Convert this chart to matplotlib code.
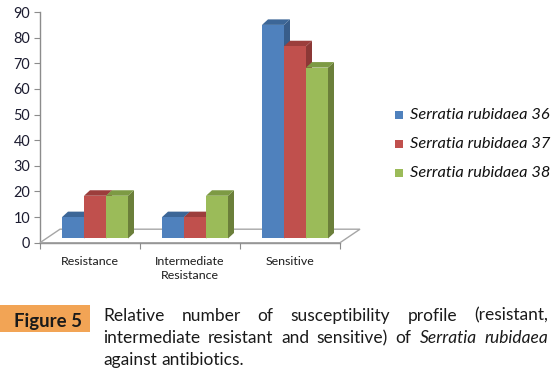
import matplotlib
matplotlib.use("Agg")
import matplotlib.pyplot as plt
from matplotlib.patches import Rectangle, Polygon

plt.rcParams.update({'font.family': 'Lato'})

# data (percent of antibiotics tested)
categories = ['Resistance', 'Intermediate\nResistance', 'Sensitive']
series_names = ['Serratia rubidaea 36', 'Serratia rubidaea 37', 'Serratia rubidaea 38']
sr36 = [8.33, 8.33, 83.33]
sr37 = [16.67, 8.33, 75.0]
sr38 = [16.67, 16.67, 66.67]
yticks = [0, 10, 20, 30, 40, 50, 60, 70, 80, 90]

# excel-ish colours: front, top, side
colors = [('#4F81BD', '#3C6697', '#385D8A'),
          ('#C0504D', '#9C3E3C', '#8C3836'),
          ('#9BBB59', '#7D9A44', '#6B7F3A')]
axis_grey = '#8c8c8c'

W, H = 556, 372
fig = plt.figure(figsize=(W / 100, H / 100), dpi=100)
renderer = fig.canvas.get_renderer()


def fit_size(s, target, **kw):
    # font size that makes string s about target px wide
    t = fig.text(0, 0, s, fontsize=10, **kw)
    w = t.get_window_extent(renderer).width
    t.remove()
    return 10 * target / w


ax = fig.add_axes([40 / W, 1 - 242.7 / H, 300 / W, 230.7 / H])
ax.set_xlim(-0.5, 2.5)
ax.set_ylim(0, 90)

# pseudo 3d geometry (data units)
bw = 0.22        # bar width
ox, oy = 0.05, 1.64   # bars sit a bit back on the floor
ddx, ddy = 0.06, 2.15  # bar depth
fdx, fdy = 0.20, 5.27  # floor depth

floor = Polygon([(-0.5, 0), (2.5, 0), (2.5 + fdx, fdy), (-0.5 + fdx, fdy)],
                closed=True, facecolor='white', edgecolor='#a6a6a6', lw=1.0,
                clip_on=False, zorder=1)
ax.add_patch(floor)


def bar3d(x0, h, cols, z):
    y0 = oy
    front, top, side = cols
    ax.add_patch(Polygon([(x0 + bw, y0), (x0 + bw + ddx, y0 + ddy),
                          (x0 + bw + ddx, y0 + h + ddy), (x0 + bw, y0 + h)],
                         closed=True, facecolor=side, edgecolor='none',
                         clip_on=False, zorder=z))
    ax.add_patch(Polygon([(x0, y0 + h), (x0 + bw, y0 + h),
                          (x0 + bw + ddx, y0 + h + ddy), (x0 + ddx, y0 + h + ddy)],
                         closed=True, facecolor=top, edgecolor='none',
                         clip_on=False, zorder=z))
    ax.add_patch(Rectangle((x0, y0), bw, h, facecolor=front, edgecolor='none',
                           clip_on=False, zorder=z))


data = [sr36, sr37, sr38]
for i in range(len(categories)):
    start = i + ox - 1.5 * bw
    for k, vals in enumerate(data):
        bar3d(start + k * bw, vals[i], colors[k], 2 + k)

# axes styling
for s in ['top', 'right']:
    ax.spines[s].set_visible(False)
for s in ['left', 'bottom']:
    ax.spines[s].set_color(axis_grey)
    ax.spines[s].set_linewidth(1.0)
    ax.spines[s].set_zorder(0.5)
ax.set_yticks(yticks)
ax.tick_params(axis='y', direction='out', length=4, color=axis_grey,
               labelsize=fit_size('90', 16.7), labelcolor='#1c1c30', pad=3)
ax.set_xticks([-0.5, 0.5, 1.5, 2.5])
ax.set_xticklabels([])
ax.tick_params(axis='x', which='major', direction='out', length=4, color=axis_grey)
ax.set_xticks([0, 1, 2], minor=True)
ax.set_xticklabels(categories, minor=True, fontsize=fit_size('Resistance', 58),
                   color='#1c1c1c', linespacing=1.3, va='top')
ax.tick_params(axis='x', which='minor', length=0, pad=9.5)
ax.set_facecolor('none')

# legend drawn by hand
leg_fs = fit_size(series_names[0], 140, style='italic')
leg_y = [115, 144, 173]
for k, name in enumerate(series_names):
    fig.patches.append(Rectangle((395 / W, 1 - (leg_y[k] + 4) / H), 8 / W, 8 / H,
                                 transform=fig.transFigure, facecolor=colors[k][0],
                                 edgecolor='none'))
    fig.text(410 / W, 1 - leg_y[k] / H, name, fontsize=leg_fs, style='italic',
             color='#111111', va='center', ha='left')

# caption
fig.patches.append(Rectangle((0, 1 - 332.3 / H), 90 / W, 27.3 / H,
                             transform=fig.transFigure, facecolor='#F2A455',
                             edgecolor='none'))
fig.text(47.5 / W, 1 - 326.7 / H, 'Figure 5',
         fontsize=fit_size('Figure 5', 68, fontweight='bold'), fontweight='bold',
         color='#1a1a1a', ha='center', va='baseline')

cap_fs = fit_size('intermediate resistant and sensitive) of Serratia rubidaea', 432)
cap_lines = [
    ([('Relative', 'normal'), ('number', 'normal'), ('of', 'normal'),
      ('susceptibility', 'normal'), ('profile', 'normal'), ('(resistant,', 'normal')], 320.7, True),
    ([('intermediate', 'normal'), ('resistant', 'normal'), ('and', 'normal'),
      ('sensitive)', 'normal'), ('of', 'normal'), ('Serratia', 'italic'),
      ('rubidaea', 'italic')], 343.3, True),
    ([('against', 'normal'), ('antibiotics.', 'normal')], 365.3, False),
]
x_left, x_right = 103, 548
for words, base, justify in cap_lines:
    texts = [fig.text(0, 1 - base / H, w, fontsize=cap_fs, style=st, color='#1a1a1a',
                      ha='left', va='baseline') for w, st in words]
    widths = [t.get_window_extent(renderer).width for t in texts]
    if justify:
        gap = (x_right - x_left - sum(widths)) / (len(texts) - 1)
    else:
        gap = cap_fs * 100 / 72 * 0.28
    x = x_left
    for t, wd in zip(texts, widths):
        t.set_x(x / W)
        x += wd + gap

fig.savefig('out.png', dpi=100)
